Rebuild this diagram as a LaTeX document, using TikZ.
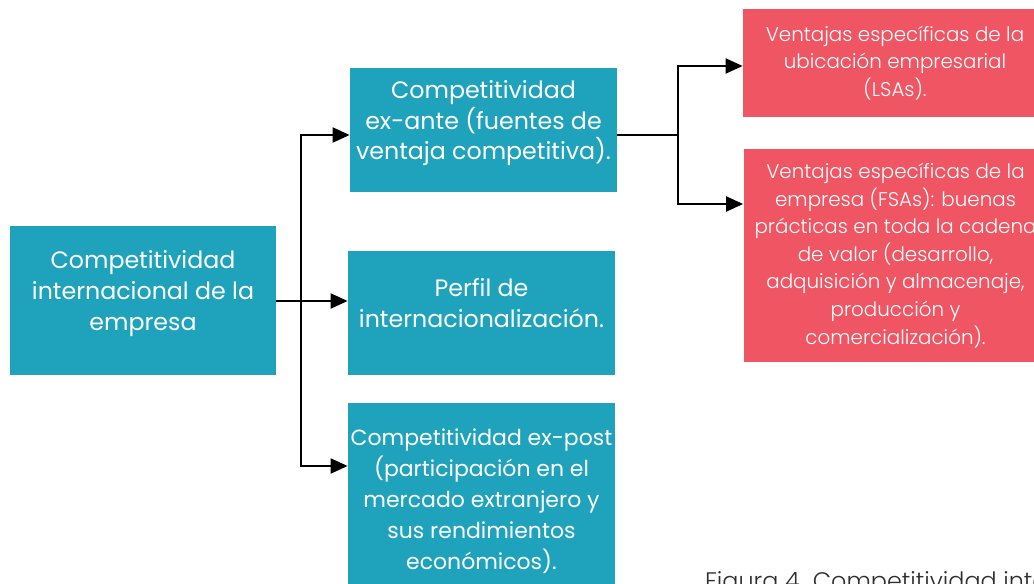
\documentclass[tikz,border=0pt]{standalone}
\usepackage{fontspec}
\setmainfont{Poppins}
\newfontfamily\lightfont{Poppins Light}
\usetikzlibrary{arrows.meta}

\definecolor{cteal}{HTML}{1FA3BC}
\definecolor{cred}{HTML}{EF5563}
\definecolor{cgray}{HTML}{2E2E2E}
\def\px{0.02cm}

\begin{document}
\begin{tikzpicture}[x=0.02cm, y=-0.02cm,
    srcbox/.style={fill=cteal, text=white, align=center, inner sep=0pt,
      text depth=20*\px, font=\fontsize{13.5}{17.6}\selectfont},
    ventbox/.style={fill=cred, text=white, align=center, inner sep=0pt,
      font=\lightfont\fontsize{11.3}{15.7}\selectfont},
    link/.style={line width=1.1pt, black},
    arr/.style={link, -{Triangle[length=17*\px, width=15*\px]}}]
    \useasboundingbox (0,0) rectangle (1034,584);

    % left part
    \node[srcbox, minimum width=266*\px, minimum height=149*\px] (comp) at (143,300.5)
      {Competitividad\\internacional de la\\empresa};
    \node[srcbox, minimum width=267*\px, minimum height=124*\px] (exante) at (483.5,130)
      {Competitividad\\ex-ante (fuentes de\\ventaja competitiva).};
    \node[srcbox, minimum width=267*\px, minimum height=124*\px] (perfil) at (481.5,313)
      {Perfil de\\internacionalización.};
    \node[srcbox, minimum width=267*\px, minimum height=212*\px, font=\fontsize{12.5}{17.6}\selectfont]
      (expost) at (481.5,509)
      {Competitividad ex-post\\(participación en el\\mercado extranjero y\\sus rendimientos\\económicos).};

    % right part
    \node[ventbox, minimum width=304*\px, minimum height=108*\px] (lsa) at (895,63)
      {Ventajas específicas de la\\ubicación empresarial\\(LSAs).};
    \node[ventbox, minimum width=304*\px, minimum height=213*\px] (fsa) at (895.5,255.5)
      {Ventajas específicas de la\\empresa (FSAs): buenas\\prácticas en toda la cadena\\de valor (desarrollo,\\adquisición y almacenaje,\\producción y\\comercialización).};

    \node[anchor=base west, text=cgray, font=\lightfont\fontsize{13.6}{16}\selectfont] (caption) at (699,589)
      {Figura 4. Competitividad internacional de la empresa};

    % connectors
    \coordinate (j1) at (301,301);
    \coordinate (j2) at (678,135);
    \draw[link] (comp.east |- j1) -- (j1);
    \draw[arr] (j1) |- (exante.west |- 0,135);
    \draw[arr] (j1) -- (perfil.west |- j1);
    \draw[arr] (j1) |- (expost.west |- 0,466);
    \draw[link] (exante.east |- j2) -- (j2);
    \draw[arr] (j2) |- (lsa.west |- 0,66);
    \draw[arr] (j2) |- (fsa.west |- 0,204);
\end{tikzpicture}
\end{document}
